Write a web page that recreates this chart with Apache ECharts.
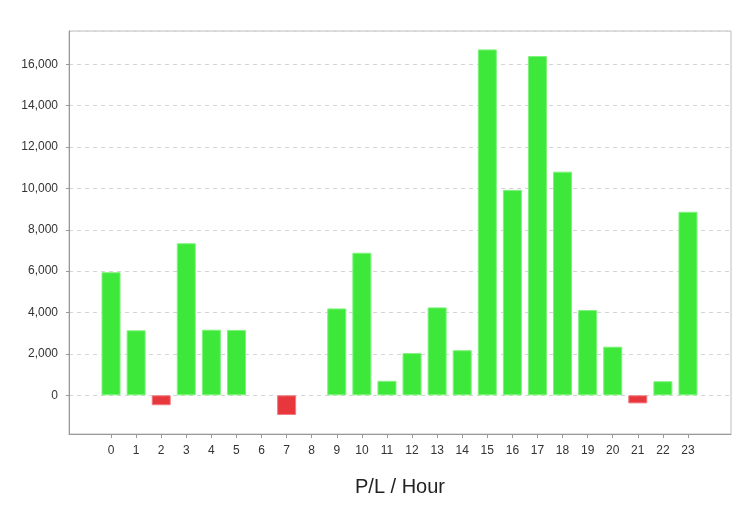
<!DOCTYPE html>
<html>
<head>
<meta charset="utf-8">
<script src="https://cdn.jsdelivr.net/npm/echarts@6/dist/echarts.min.js"></script>
<style>html,body{margin:0;padding:0;background:#fff;}#c{width:756px;height:515px;}</style>
</head>
<body>
<div id="c"></div>
<script>
const hours = ['0','1','2','3','4','5','6','7','8','9','10','11','12','13','14','15','16','17','18','19','20','21','22','23'];
const profit = [5950, 3140, -480, 7350, 3170, 3160, 0, -950, 0, 4200, 6890, 700, 2040, 4250, 2180, 16720, 9930, 16400, 10810, 4120, 2350, -390, 680, 8870];
const axisTitle = 'P/L / Hour';
const yMin = -1870;
const yMax = 17610;

const chart = echarts.init(document.getElementById('c'), null, {renderer: 'canvas'});
const FONT = 'Liberation Sans, Arial, sans-serif';
chart.setOption({
  animation: false,
  backgroundColor: '#ffffff',
  title: {
    text: axisTitle,
    left: 400,
    top: 477,
    textAlign: 'center',
    padding: 0,
    textStyle: {fontFamily: FONT, fontSize: 20, fontWeight: 'normal', color: '#222'}
  },
  grid: [
    {left: 69, top: 31, width: 662, height: 403, show: true, borderColor: '#bdbdbd', borderWidth: 1, backgroundColor: '#fff'},
    {left: 98.5, top: 31, width: 602, height: 403}
  ],
  xAxis: [
    {gridIndex: 0, type: 'value', min: 0, max: 1,
     axisLine: {show: true, onZero: false, lineStyle: {color: '#999'}},
     axisTick: {show: false}, axisLabel: {show: false}, splitLine: {show: false}},
    {gridIndex: 1, type: 'category', data: hours,
     axisLine: {show: false, onZero: false},
     axisTick: {show: true, alignWithLabel: true, length: 4, lineStyle: {color: '#999'}},
     axisLabel: {fontFamily: FONT, fontSize: 12, color: '#333', margin: 11},
     splitLine: {show: false}}
  ],
  yAxis: [
    {gridIndex: 0, type: 'value', min: yMin, max: yMax, splitNumber: 10,
     axisLine: {show: true, lineStyle: {color: '#999'}},
     axisTick: {show: true, length: 3, lineStyle: {color: '#999'}},
     axisLabel: {fontFamily: FONT, fontSize: 12, color: '#333', margin: 11,
       showMinLabel: false, showMaxLabel: false,
       formatter: v => Number(v).toLocaleString('en-US')},
     splitLine: {show: true, lineStyle: {color: '#d4d4d4', type: [4, 4], width: 1}}},
    {gridIndex: 1, type: 'value', min: yMin, max: yMax, splitNumber: 10,
     axisLine: {show: false}, axisTick: {show: false}, axisLabel: {show: false}, splitLine: {show: false}}
  ],
  series: [{
    type: 'bar',
    xAxisIndex: 1,
    yAxisIndex: 1,
    barWidth: 19,
    data: profit.map(v => ({
      value: v,
      itemStyle: v > 0
        ? {color: '#3de83a', borderColor: '#7ef27b', borderWidth: 1}
        : v < 0
          ? {color: '#e8363d', borderColor: '#f07a7e', borderWidth: 1}
          : {color: 'rgba(0,0,0,0)', borderWidth: 0}
    }))
  }]
});
</script>
</body>
</html>
